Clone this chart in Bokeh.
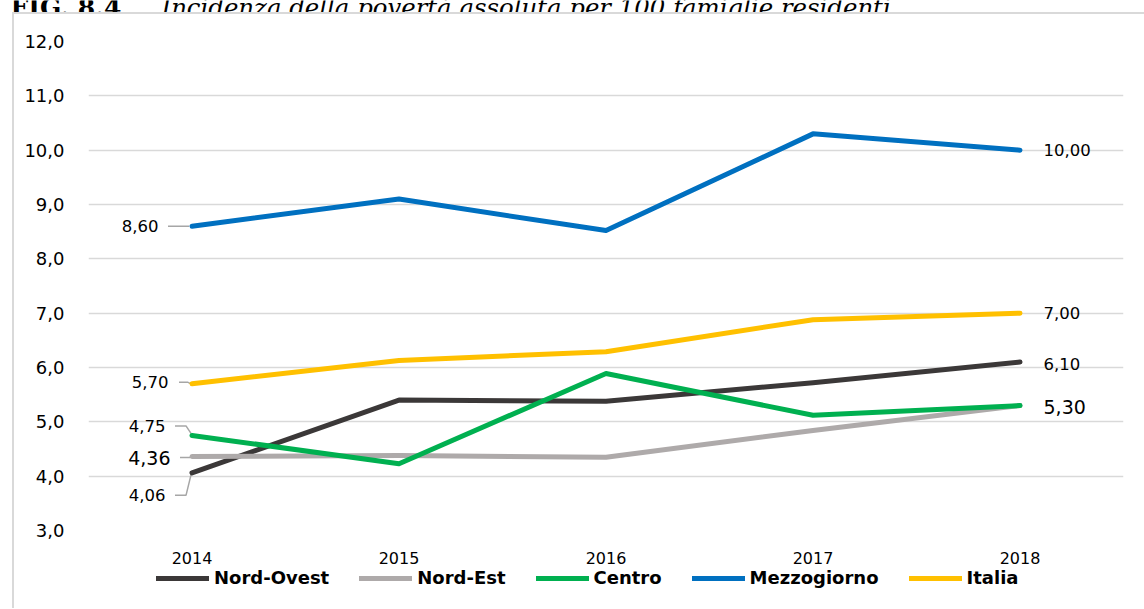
from bokeh.plotting import figure
from bokeh.layouts import column
from bokeh.models import Range1d, FixedTicker, Legend, LegendItem
from bokeh.core.properties import value
from bokeh.embed import file_html
from bokeh.resources import INLINE

# ---------------- data ----------------
years = [2014, 2015, 2016, 2017, 2018]
year_labels = ["2014", "2015", "2016", "2017", "2018"]
nord_ovest = [4.06, 5.40, 5.38, 5.72, 6.10]
nord_est = [4.36, 4.38, 4.35, 4.84, 5.30]
centro = [4.75, 4.23, 5.89, 5.12, 5.30]
mezzogiorno = [8.60, 9.10, 8.52, 10.30, 10.00]
italia = [5.70, 6.13, 6.29, 6.88, 7.00]
series_names = ["Nord-Ovest", "Nord-Est", "Centro", "Mezzogiorno", "Italia"]
series_colors = ["#3b3838", "#aeaaaa", "#00b050", "#0070c0", "#ffc000"]
y_ticks = [3, 4, 5, 6, 7, 8, 9, 10, 11, 12]
title_fig = "FIG. 8.4"
title_text = "Incidenza della povertà assoluta per 100 famiglie residenti"

series_values = [nord_ovest, nord_est, centro, mezzogiorno, italia]

def fmt(v, d):
    return f"{v:.{d}f}".replace(".", ",")

FONT = "DejaVu Sans"
BORDER = "#d9d9d9"
WHITE = {"background-color": "white"}

# ---------------- title strip (cut at the top, as in the reference) ----------------
TW, TH = 1144, 12
tfig = figure(width=TW, height=TH, output_backend="svg", toolbar_location=None,
              x_range=Range1d(0, TW), y_range=Range1d(TH, 0),
              x_axis_type=None, y_axis_type=None, min_border=0,
              outline_line_color=None, background_fill_color="white",
              border_fill_color="white", styles=WHITE)
tfig.grid.visible = False
tfig.text(x=[10], y=[7], text=[title_fig], text_font=value("DejaVu Serif"),
          text_font_style="bold", text_font_size="25px",
          text_baseline="alphabetic", text_color="#000000")
tfig.text(x=[161], y=[7], text=[title_text], text_font=value("DejaVu Serif"),
          text_font_style="italic", text_font_size="24.4px",
          text_baseline="alphabetic", text_color="#000000")

# ---------------- main chart ----------------
W, H = 1130, 552
FL, FR, FT, FB = 74, 1109, 27, 517          # frame edges inside this canvas
frame_w, frame_h = FR - FL, FB - FT
x_lo, x_hi = years[0] - 0.5, years[-1] + 0.5
y_lo, y_hi = y_ticks[0], y_ticks[-1]
px_per_x = frame_w / (x_hi - x_lo)
px_per_y = frame_h / (y_hi - y_lo)

p = figure(width=W, height=H, output_backend="svg", toolbar_location=None,
           x_range=Range1d(x_lo, x_hi), y_range=Range1d(y_lo, y_hi),
           min_border_left=FL, min_border_right=W - FR,
           min_border_top=FT, min_border_bottom=H - FB,
           background_fill_color="white", border_fill_color="white",
           outline_line_color=None, margin=(2, 0, 0, 2), styles=WHITE)

p.xaxis.ticker = FixedTicker(ticks=years)
p.xaxis.major_label_overrides = {y: l for y, l in zip(years, year_labels)}
p.xaxis.axis_line_color = None
p.xaxis.major_tick_line_color = None
p.xaxis.minor_tick_line_color = None
p.xaxis.major_label_standoff = 15
p.xaxis.major_label_text_font = FONT
p.xaxis.major_label_text_font_size = "16px"
p.xaxis.major_label_text_color = "#000000"

p.yaxis.ticker = FixedTicker(ticks=y_ticks)
p.yaxis.major_label_overrides = {t: fmt(t, 1) for t in y_ticks}
p.yaxis.axis_line_color = None
p.yaxis.major_tick_line_color = None
p.yaxis.minor_tick_line_color = None
p.yaxis.major_label_standoff = 18
p.yaxis.major_label_text_font = FONT
p.yaxis.major_label_text_font_size = "18px"
p.yaxis.major_label_text_color = "#000000"

p.xgrid.grid_line_color = None
p.ygrid.grid_line_color = BORDER
p.ygrid.grid_line_width = 1.5

# leader lines for left labels (pixel offsets converted through the scale factors)
leader_px = {
    "Mezzogiorno": [(-24, 0), (-3, 0)],
    "Italia": [(-13, -1.5), (-4, -1.5), (-1, 0)],
    "Centro": [(-17, -9.5), (-6, -9.5), (-1, -2)],
    "Nord-Est": [(-12, 1), (-2, 1)],
    "Nord-Ovest": [(-17, 22.5), (-6, 22.5), (-1, 2)],
}
lxs, lys = [], []
for name, vals in zip(series_names, series_values):
    pts = leader_px[name]
    lxs.append([years[0] + dx / px_per_x for dx, dy in pts])
    lys.append([vals[0] - dy / px_per_y for dx, dy in pts])
p.multi_line(lxs, lys, line_color="#a6a6a6", line_width=1.5)

for name, vals, col in zip(series_names, series_values, series_colors):
    p.line(years, vals, line_color=col, line_width=5,
           line_cap="round", line_join="round")

left_off = {
    "Nord-Ovest": (-26.5, 22.5, "16.5px"),
    "Nord-Est": (-21.5, 1, "19px"),
    "Centro": (-26.5, -9.5, "16.5px"),
    "Mezzogiorno": (-33.5, 0, "16.5px"),
    "Italia": (-23.5, -1.5, "16.5px"),
}
for name, vals in zip(series_names, series_values):
    xo, yo, fs = left_off[name]
    p.text(x=[years[0]], y=[vals[0]], text=[fmt(vals[0], 2)],
           x_offset=xo, y_offset=yo, text_align="right", text_baseline="middle",
           text_font=value(FONT), text_font_size=fs, text_color="#000000")

right_off = {
    "Nord-Ovest": (23.5, 1.5, "16.5px"),
    "Nord-Est": (23.5, 1.5, "19px"),
    "Mezzogiorno": (23.5, 0, "16.5px"),
    "Italia": (23.5, 0, "16.5px"),
}
for name, vals in zip(series_names, series_values):
    if name not in right_off:
        continue
    xo, yo, fs = right_off[name]
    p.text(x=[years[-1]], y=[vals[-1]], text=[fmt(vals[-1], 2)],
           x_offset=xo, y_offset=yo, text_align="left", text_baseline="middle",
           text_font=value(FONT), text_font_size=fs, text_color="#000000")

# ---------------- legend strip ----------------
# (its frame is aligned by the column with the chart frame above)
LW, LH = 1130, 42
lfig = figure(width=LW, height=LH, output_backend="svg", toolbar_location=None,
              x_range=Range1d(0, 1), y_range=Range1d(0, 1),
              x_axis_type=None, y_axis_type=None, min_border=0,
              outline_line_color=None, background_fill_color="white",
              border_fill_color="white", margin=(0, 0, 0, 2), styles=WHITE)
lfig.grid.visible = False
# same series, outside this strip's view: only their legend swatches show
leg_renderers = [lfig.line(years, vals, line_color=c, line_width=5, line_cap="round")
                 for vals, c in zip(series_values, series_colors)]
legend = Legend(items=[LegendItem(label=n, renderers=[r])
                       for n, r in zip(series_names, leg_renderers)],
                orientation="horizontal", location=(68, 20),
                glyph_width=53, glyph_height=20, label_standoff=5, spacing=30,
                padding=0, margin=0, border_line_color=None, background_fill_alpha=0,
                label_text_font=FONT, label_text_font_style="bold",
                label_text_font_size="18px", label_text_color="#000000",
                label_height=20)
lfig.add_layout(legend)

# chart box: grey strips at left and top show through the children's margins
box = column(p, lfig, margin=(0, 0, 0, 12), spacing=0,
             styles={"background-color": BORDER})
page = column(tfig, box, spacing=0)

open("out.html", "w").write(file_html(page, INLINE))
